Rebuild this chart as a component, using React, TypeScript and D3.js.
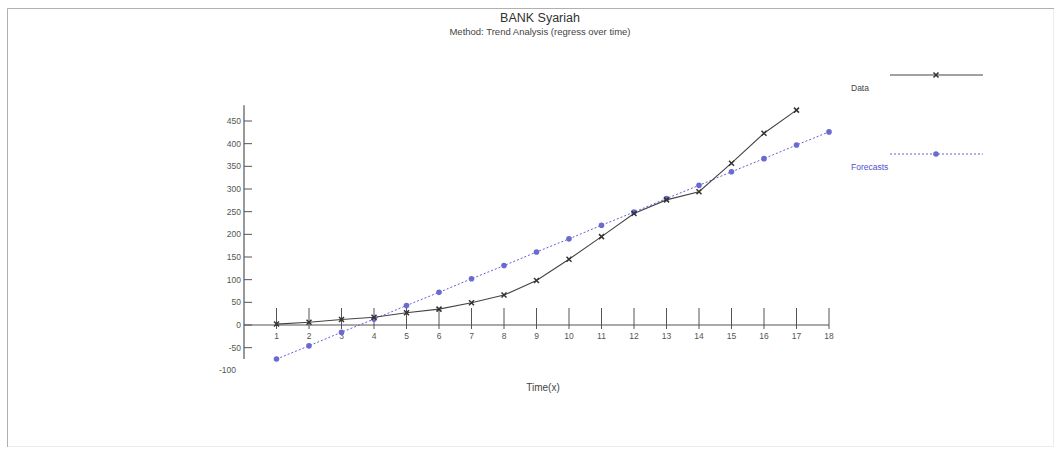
import React, { useEffect, useRef } from "react";
import * as d3 from "d3";

const periods = [1, 2, 3, 4, 5, 6, 7, 8, 9, 10, 11, 12, 13, 14, 15, 16, 17, 18];
const dataValues = [2, 6, 12, 17, 27, 35, 49, 66, 98, 145, 195, 246, 276, 294, 357, 423, 474];
const forecastValues = [-75, -46, -16, 13, 43, 72, 102, 131, 161, 190, 220, 249, 279, 308, 338, 367, 397, 426];
const yTicks = [-100, -50, 0, 50, 100, 150, 200, 250, 300, 350, 400, 450];

const App = () => {
  const svgRef = useRef<SVGSVGElement>(null);

  useEffect(() => {
    const svg = d3.select(svgRef.current);
    svg.selectAll("*").remove();
    const font = "Liberation Sans, Arial, sans-serif";

    // frame
    svg.append("rect").attr("x", 7.5).attr("y", 8.5).attr("width", 1046).attr("height", 438)
      .attr("fill", "white").attr("stroke", "#ececec");
    svg.append("line").attr("x1", 7.5).attr("x2", 1054).attr("y1", 8.5).attr("y2", 8.5).attr("stroke", "#b0b0b0");
    svg.append("line").attr("x1", 7.5).attr("x2", 7.5).attr("y1", 8.5).attr("y2", 447).attr("stroke", "#b0b0b0");

    const x = d3.scaleLinear().domain([0, 18]).range([244, 829]);
    const y = d3.scaleLinear().domain([0, 450]).range([325, 121]);

    svg.append("text").attr("x", 540).attr("y", 22).attr("text-anchor", "middle")
      .attr("font-family", font).attr("font-size", 12.5).attr("fill", "#333").text("BANK Syariah");
    svg.append("text").attr("x", 540).attr("y", 35).attr("text-anchor", "middle")
      .attr("font-family", font).attr("font-size", 9.5).attr("fill", "#444")
      .text("Method: Trend Analysis (regress over time)");

    // y axis
    const g = svg.append("g");
    g.append("line").attr("x1", x(0)).attr("x2", x(0)).attr("y1", y(485)).attr("y2", y(-75))
      .attr("stroke", "#555").attr("stroke-width", 1.2);
    yTicks.forEach(t => {
      if (t > -100) {
        g.append("line").attr("x1", x(0)).attr("x2", x(0) + 8).attr("y1", y(t)).attr("y2", y(t))
          .attr("stroke", "#555").attr("stroke-width", 1);
      }
      g.append("text").attr("x", t === -100 ? x(0) - 8 : x(0) - 3).attr("y", y(t) + 3)
        .attr("text-anchor", "end").attr("font-family", font).attr("font-size", 8.5).attr("fill", "#555")
        .text(t);
    });

    // x axis
    g.append("line").attr("x1", x(0)).attr("x2", x(18)).attr("y1", y(0)).attr("y2", y(0))
      .attr("stroke", "#555").attr("stroke-width", 1.2);
    periods.forEach(p => {
      g.append("line").attr("x1", x(p)).attr("x2", x(p)).attr("y1", y(0) - 17).attr("y2", y(0) + 4)
        .attr("stroke", "#555").attr("stroke-width", 1);
      g.append("text").attr("x", x(p)).attr("y", y(0) + 14).attr("text-anchor", "middle")
        .attr("font-family", font).attr("font-size", 8.5).attr("fill", "#555").text(p);
    });
    svg.append("text").attr("x", 543).attr("y", 391).attr("text-anchor", "middle")
      .attr("font-family", font).attr("font-size", 10).attr("fill", "#444").text("Time(x)");

    const line = d3.line<number>().x((d, i) => x(periods[i])).y(d => y(d));

    // forecast
    svg.append("path").datum(forecastValues).attr("d", line).attr("fill", "none")
      .attr("stroke", "#6060d8").attr("stroke-width", 1).attr("stroke-dasharray", "2,2");
    svg.selectAll(".fc").data(forecastValues).join("circle").attr("class", "fc")
      .attr("cx", (d, i) => x(periods[i])).attr("cy", d => y(d))
      .attr("r", 2.8).attr("fill", "#6a6ad0");

    // data
    svg.append("path").datum(dataValues).attr("d", line).attr("fill", "none")
      .attr("stroke", "#444").attr("stroke-width", 1.1);
    const cross = d3.symbol().type(d3.symbolX).size(18);
    svg.selectAll(".dt").data(dataValues).join("path").attr("class", "dt")
      .attr("transform", (d, i) => `translate(${x(periods[i])},${y(d)})`)
      .attr("d", cross).attr("fill", "none").attr("stroke", "#333").attr("stroke-width", 1.5);

    // legend
    svg.append("line").attr("x1", 890).attr("x2", 983).attr("y1", 75).attr("y2", 75)
      .attr("stroke", "#444").attr("stroke-width", 1.1);
    svg.append("path").attr("transform", "translate(936,75)").attr("d", cross)
      .attr("fill", "none").attr("stroke", "#333").attr("stroke-width", 1.5);
    svg.append("text").attr("x", 851).attr("y", 91).attr("font-family", font).attr("font-size", 8.5)
      .attr("fill", "#444").text("Data");
    svg.append("line").attr("x1", 890).attr("x2", 983).attr("y1", 154).attr("y2", 154)
      .attr("stroke", "#6060d8").attr("stroke-width", 1).attr("stroke-dasharray", "2,2");
    svg.append("circle").attr("cx", 936).attr("cy", 154).attr("r", 2.8).attr("fill", "#6a6ad0");
    svg.append("text").attr("x", 851).attr("y", 170).attr("font-family", font).attr("font-size", 8.5)
      .attr("fill", "#5050d0").text("Forecasts");
  }, []);

  return <svg ref={svgRef} width={1060} height={452} style={{ position: "absolute", left: 0, top: 0 }} />;
};

export default App;
